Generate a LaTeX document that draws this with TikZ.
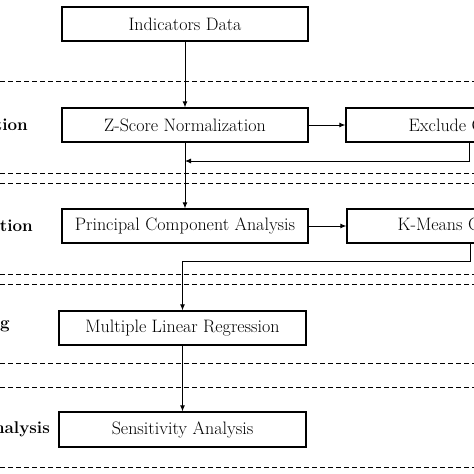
\documentclass[tikz,border=0pt]{standalone}
\usetikzlibrary{arrows.meta}
\begin{document}
\begin{tikzpicture}[x=1pt,y=-1pt,
  box/.style={draw=black,line width=1.3pt,minimum width=246pt,minimum height=34pt,inner sep=0pt,
    font=\fontsize{18}{21}\selectfont},
  arr/.style={line width=0.9pt,-{Latex[length=6pt,width=5pt]}},
  sep/.style={line width=0.9pt,dash pattern=on 5pt off 3pt},
  lab/.style={anchor=east,inner sep=0pt,font=\fontsize{17}{20}\selectfont\bfseries}]
\useasboundingbox (0,0) rectangle (474,474);
\clip (0,0) rectangle (474,474);
\fill[white] (0,0) rectangle (474,474);
% separators
\foreach \yy in {81,173,183,274,284,363,387,467}
  \draw[sep] (0,\yy) -- (474,\yy);
% boxes
\node[box] (ind) at (185,24) {Indicators Data};
\node[box] (zs) at (185,125) {Z-Score Normalization};
\node[box] (ex) at (469,125) {Exclude Outliers};
\node[box] (pca) at (185,226) {Principal Component Analysis};
\node[box] (km) at (470,226) {K-Means Clustering};
\node[box,minimum width=247pt] (mlr) at (182.5,328) {Multiple Linear Regression};
\node[box,minimum width=247pt,minimum height=35pt] (sa) at (182.5,429.5) {Sensitivity Analysis};
% labels
\node[lab] (l1) at (28,125) {tion};
\node[lab] (l2) at (33,226) {ation};
\node[lab] (l3) at (10,326) {g};
\node[lab] (l4) at (50,429) {nalysis};
% connectors
\coordinate (j1) at (185,161);
\coordinate (j2) at (182.5,261);
\draw[arr] (ind.south) -- (zs.north);
\draw[arr] (zs.east) -- (ex.west);
\draw[arr] (ex.south) |- (j1);
\draw[arr] (zs.south) -- (pca.north);
\draw[arr] (pca.east) -- (km.west);
\draw[arr] (km.south) |- (j2) -- (mlr.north);
\draw[arr] (mlr.south) -- (sa.north);
\end{tikzpicture}
\end{document}
